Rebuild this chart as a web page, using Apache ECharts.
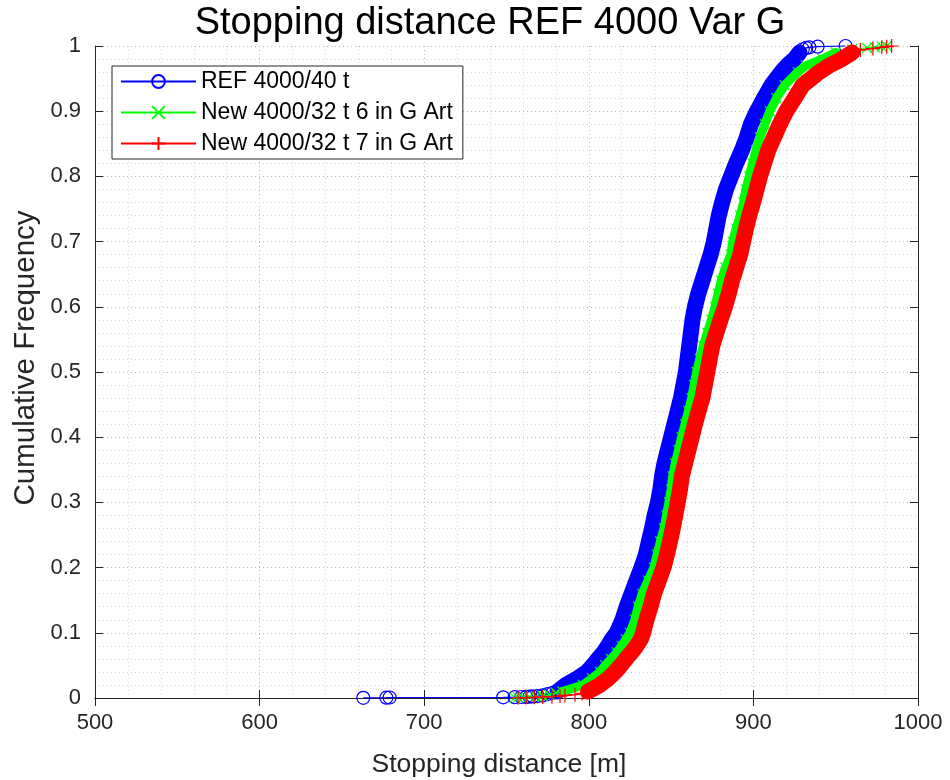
<!DOCTYPE html>
<html><head><meta charset="utf-8">
<script src="https://cdn.jsdelivr.net/npm/echarts@6/dist/echarts.min.js"></script>
<style>html,body{margin:0;padding:0;background:#fff}#c{width:950px;height:780px}</style>
</head><body><div id="c"></div><script>
// ---- data (stopping distance [m], cumulative frequency) ----
const seriesNames = ['REF 4000/40 t', 'New 4000/32 t 6 in G Art', 'New 4000/32 t 7 in G Art'];
const xTickValues = [500, 600, 700, 800, 900, 1000];
const yTickValues = [0, 0.1, 0.2, 0.3, 0.4, 0.5, 0.6, 0.7, 0.8, 0.9, 1];

const refCdf = [[663,0.00025],[677,0.0005],[679,0.00075],[748,0.001],[755,0.00125],[759,0.0015],[762,0.00175],[764,0.002],[766,0.0025],[769,0.003],[772,0.004],[775,0.006],[778,0.008],[781,0.01],[786,0.02],[793,0.03],[799,0.04],[802.5,0.05],[805.6,0.06],[809,0.07],[811.7,0.08],[814,0.09],[817,0.10],[820.5,0.12],[823,0.14],[826,0.16],[829,0.18],[832,0.20],[834.7,0.22],[836.5,0.24],[838.4,0.26],[840,0.28],[842,0.30],[843.5,0.32],[844.5,0.34],[846,0.36],[848,0.38],[850,0.40],[852,0.42],[854,0.44],[856,0.46],[857.5,0.48],[859,0.50],[860,0.52],[861,0.54],[862,0.56],[863,0.58],[864.5,0.60],[866.5,0.62],[869,0.64],[871.5,0.66],[874,0.68],[876,0.70],[877.5,0.72],[879,0.74],[881,0.76],[883.3,0.78],[886.4,0.80],[889.5,0.82],[893,0.84],[896,0.86],[898.5,0.88],[902.2,0.90],[906.5,0.92],[911,0.94],[917,0.96],[920.5,0.97],[925,0.98],[928,0.99],[930,0.995],[932,0.997],[934,0.998],[939,0.999],[956,1]];

const t6Cdf = [[755,0.0003],[757,0.0006],[760,0.001],[764,0.0015],[768,0.002],[772,0.003],[776,0.005],[780,0.008],[784,0.01],[796.5,0.02],[802,0.03],[806.8,0.04],[810,0.05],[813.5,0.06],[817,0.07],[820,0.08],[822.5,0.09],[825,0.10],[828,0.12],[830,0.14],[832.5,0.16],[836,0.18],[839.6,0.20],[841.5,0.22],[843.5,0.24],[845.7,0.26],[847.2,0.28],[848.7,0.30],[850,0.32],[851,0.34],[852.5,0.36],[854.5,0.38],[856.4,0.40],[858.5,0.42],[860.5,0.44],[862.5,0.46],[864,0.48],[865.5,0.50],[867.5,0.52],[869.5,0.54],[872,0.56],[874.5,0.58],[876.7,0.60],[878.5,0.62],[880.5,0.64],[883,0.66],[886.3,0.68],[887.5,0.70],[889.5,0.72],[892,0.74],[894,0.76],[895.4,0.78],[897.5,0.80],[899.5,0.82],[901.6,0.84],[904,0.86],[907,0.88],[910,0.90],[914,0.92],[919,0.94],[927,0.96],[932,0.97],[942,0.98],[950,0.99],[960,0.995],[969,0.997],[974,0.998],[978,0.999],[981,1]];

const t7Cdf = [[757,0.0003],[762,0.0006],[767,0.001],[772,0.0015],[777.6,0.002],[782.5,0.003],[785.5,0.004],[791.6,0.005],[796,0.007],[799.5,0.01],[806.8,0.02],[812,0.03],[816,0.04],[819.5,0.05],[822.6,0.06],[826,0.07],[829,0.08],[831.5,0.09],[833,0.10],[835,0.12],[837.5,0.14],[839.6,0.16],[842.5,0.18],[845.4,0.20],[847.5,0.22],[849.3,0.24],[851,0.26],[852.5,0.28],[854,0.30],[855.4,0.32],[856.5,0.34],[858.5,0.36],[860.5,0.38],[862.5,0.40],[864.5,0.42],[866.7,0.44],[869,0.46],[870.5,0.48],[872,0.50],[873.5,0.52],[875,0.54],[877.5,0.56],[880,0.58],[882.7,0.60],[885,0.62],[887,0.64],[889.5,0.66],[892,0.68],[893.7,0.70],[895.5,0.72],[897.5,0.74],[899.8,0.76],[901.9,0.78],[904,0.80],[906.5,0.82],[909,0.84],[912.5,0.86],[916,0.88],[920,0.90],[925,0.92],[930,0.94],[940,0.96],[946,0.97],[953.8,0.98],[960,0.99],[965,0.994],[972.6,0.996],[978,0.998],[981,0.999],[984,1]];

// ---- styling / build ----
const colors = ['#0000ff', '#00ff00', '#ff0000'];
const symbols = ['circle', 'path://M0,0L10,10M10,0L0,10', 'path://M5,0L5,10M0,5L10,5'];
const symbolSizes = [13, 10, 14];
const bandWidths = [16, 9, 16];
const allData = [refCdf, t6Cdf, t7Cdf];
const FONT = '"Liberation Sans", Arial, Helvetica, sans-serif';
const TXT = '#262626';

const series = [];
allData.forEach((d, i) => {
  series.push({
    type: 'line', name: seriesNames[i] + ' band', data: d.filter(p => p[1] >= 0.01 && p[1] <= 0.99),
    symbol: 'none', silent: true, clip: false, z: 2 + i * 2,
    lineStyle: { color: colors[i], width: bandWidths[i], cap: 'round', join: 'round' }
  });
  series.push({
    type: 'line', name: seriesNames[i], data: d,
    symbol: symbols[i], symbolSize: symbolSizes[i], showAllSymbol: true, clip: false, z: 3 + i * 2,
    itemStyle: { color: 'rgba(0,0,0,0)', borderColor: colors[i], borderWidth: 1.2 },
    lineStyle: { color: colors[i], width: 1.2 }
  });
});

const gridLine = { show: true, lineStyle: { color: '#b8b8b8', width: 1, type: [1, 3] } };
const minorLine = { show: true, lineStyle: { color: '#d2d2d2', width: 1, type: [1, 3] } };
const xMin = xTickValues[0], xMax = xTickValues[xTickValues.length - 1], xInt = xTickValues[1] - xTickValues[0];
const yMin = yTickValues[0], yMax = yTickValues[yTickValues.length - 1], yInt = 0.1;

const baseX = {
  type: 'value', min: xMin, max: xMax, interval: xInt,
  axisLine: { show: true, lineStyle: { color: TXT, width: 1 } },
  axisTick: { show: true, inside: true, length: 8, lineStyle: { color: TXT } },
  minorTick: { show: false, splitNumber: 5 },
};
const baseY = {
  type: 'value', min: yMin, max: yMax, interval: yInt,
  axisLine: { show: true, lineStyle: { color: TXT, width: 1 } },
  axisTick: { show: true, inside: true, length: 8, lineStyle: { color: TXT } },
  minorTick: { show: false, splitNumber: 5 },
};

const option = {
  animation: false,
  backgroundColor: '#fff',
  title: {
    text: 'Stopping distance REF 4000 Var G', left: 485, top: 0, textAlign: 'center',
    textStyle: { fontFamily: FONT, fontSize: 38, fontWeight: 'normal', color: '#000' }
  },
  grid: { left: 95, right: 32, top: 46, bottom: 82, containLabel: false },
  legend: {
    data: seriesNames, orient: 'vertical', left: 112, top: 66,
    backgroundColor: '#fff', borderColor: TXT, borderWidth: 1, borderRadius: 0,
    padding: [4, 10, 4, 8], itemGap: 8, itemWidth: 75, itemHeight: 16,
    textStyle: { fontFamily: FONT, fontSize: 23, color: '#000' }
  },
  graphic: [
    { type: 'text', x: 499, y: 765, silent: true,
      style: { text: 'Stopping distance [m]', fontFamily: FONT, fontSize: 26.5, fill: TXT, align: 'center', verticalAlign: 'middle' } },
    { type: 'text', x: 26, y: 358, rotation: Math.PI / 2, silent: true,
      style: { text: 'Cumulative Frequency', fontFamily: FONT, fontSize: 29.5, fill: TXT, align: 'center', verticalAlign: 'middle' } }
  ],
  xAxis: [
    Object.assign({}, baseX, {
      position: 'bottom',
      axisLabel: { fontFamily: FONT, fontSize: 22, color: TXT, margin: 14, formatter: v => String(v) },
      splitLine: gridLine, minorSplitLine: minorLine
    }),
    Object.assign({}, baseX, { position: 'top', axisLabel: { show: false }, splitLine: { show: false } })
  ],
  yAxis: [
    Object.assign({}, baseY, {
      position: 'left',
      axisLabel: { fontFamily: FONT, fontSize: 22, color: TXT, margin: 14, formatter: v => String(Math.round(v * 10) / 10) },
      splitLine: gridLine, minorSplitLine: minorLine
    }),
    Object.assign({}, baseY, { position: 'right', axisLabel: { show: false }, splitLine: { show: false } })
  ],
  series: series
};
const chart = echarts.init(document.getElementById('c'), null, { renderer: 'canvas' });
chart.setOption(option);
</script></body></html>
